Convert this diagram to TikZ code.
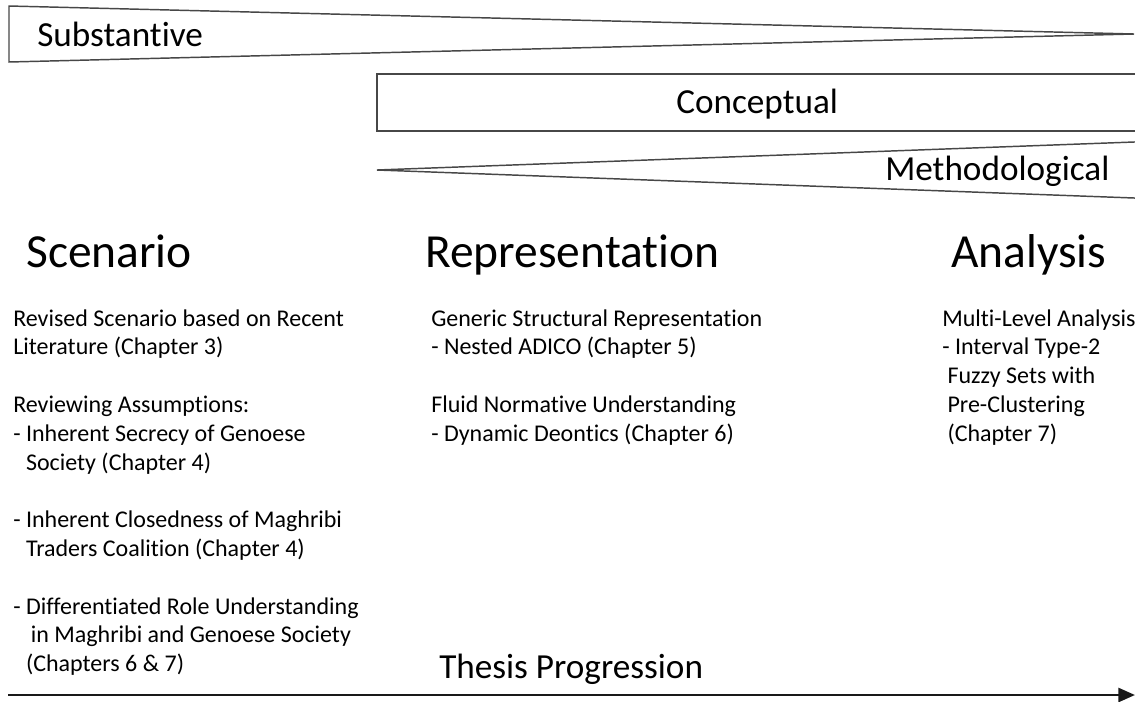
\documentclass[tikz,border=0pt]{standalone}
\usepackage{fontspec}
\setmainfont{Carlito}[Ligatures=NoCommon]
\usetikzlibrary{arrows.meta}

\tikzset{
  band/.style={draw=black!72, line width=1.1pt, line join=miter},
  bandlabel/.style={anchor=base west, inner sep=0pt, font=\fontsize{26.4pt}{31pt}\selectfont},
  heading/.style={anchor=base west, inner sep=0pt, font=\fontsize{35.6pt}{42pt}\selectfont},
  column/.style={anchor=base west, inner sep=0pt},
  progress/.style={draw=black!90, line width=2pt, -{Triangle[length=12.5pt, width=10.5pt]}}
}

% body text of the three columns: first baseline is the anchor
\newcommand{\colbox}[2]{\parbox[t]{#1}{\fontsize{18pt}{21.6pt}\selectfont\raggedright\setlength{\parindent}{0pt}#2}}
\newcommand{\contind}{\hspace*{0pt}\phantom{- }}

\begin{document}
\begin{tikzpicture}[x=0.75pt, y=-0.75pt]
  \useasboundingbox (0,0) rectangle (1135,701);

  % three levels of contribution
  \coordinate (subA) at (9,6);
  \coordinate (subB) at (9,62);
  \coordinate (subTip) at (1134,34);
  \draw[band] (subA) -- (subTip) -- (subB) -- cycle;
  \node[bandlabel] (substantive) at (37,46) {Substantive};

  \coordinate (conTR) at (1145,74);
  \coordinate (conTL) at (377,74);
  \coordinate (conBL) at (377,131);
  \coordinate (conBR) at (1145,131);
  \draw[band] (conTR) -- (conTL) -- (conBL) -- (conBR);
  \node[bandlabel] (conceptual) at (676,113.5) {Conceptual};

  \coordinate (metTip) at (377,170);
  \coordinate (metT) at (1145,141.6);
  \coordinate (metB) at (1145,198.4);
  \draw[band] (metT) -- (metTip) -- (metB);
  \node[bandlabel] (methodological) at (885,180) {Methodological};

  % column headings
  \node[heading] (scenario) at (26,267) {Scenario};
  \node[heading] (representation) at (425,267) {Representation};
  \node[heading] (analysis) at (951,267) {Analysis};

  % column contents
  \node[column] (scenarioText) at (13,326) {\colbox{12cm}{%
    Revised Scenario based on Recent\\
    Literature (Chapter 3)\\
    \mbox{}\\
    Reviewing Assumptions:\\
    - Inherent Secrecy of Genoese\\
    \contind Society (Chapter 4)\\
    \mbox{}\\
    - Inherent Closedness of Maghribi\\
    \contind Traders Coalition (Chapter 4)\\
    \mbox{}\\
    - Differentiated Role Understanding\\
    \contind\hspace*{0.2em}in Maghribi and Genoese Society\\
    \contind(Chapters 6 \& 7)}};

  \node[column] (representationText) at (431,326) {\colbox{12cm}{%
    Generic Structural Representation\\
    - Nested ADICO (Chapter 5)\\
    \mbox{}\\
    Fluid Normative Understanding\\
    - Dynamic Deontics (Chapter 6)}};

  \node[column] (analysisText) at (942,326) {\colbox{6cm}{%
    Multi-Level Analysis\\
    - Interval Type-2\\
    \hspace*{0.22em}Fuzzy Sets with\\
    \hspace*{0.22em}Pre-Clustering\\
    \hspace*{0.22em}(Chapter 7)}};

  % progression axis
  \node[bandlabel] (thesis) at (439,678) {Thesis Progression};
  \coordinate (axisStart) at (8,695);
  \coordinate (axisEnd) at (1135,695);
  \draw[progress] (axisStart) -- (axisEnd);
\end{tikzpicture}
\end{document}
